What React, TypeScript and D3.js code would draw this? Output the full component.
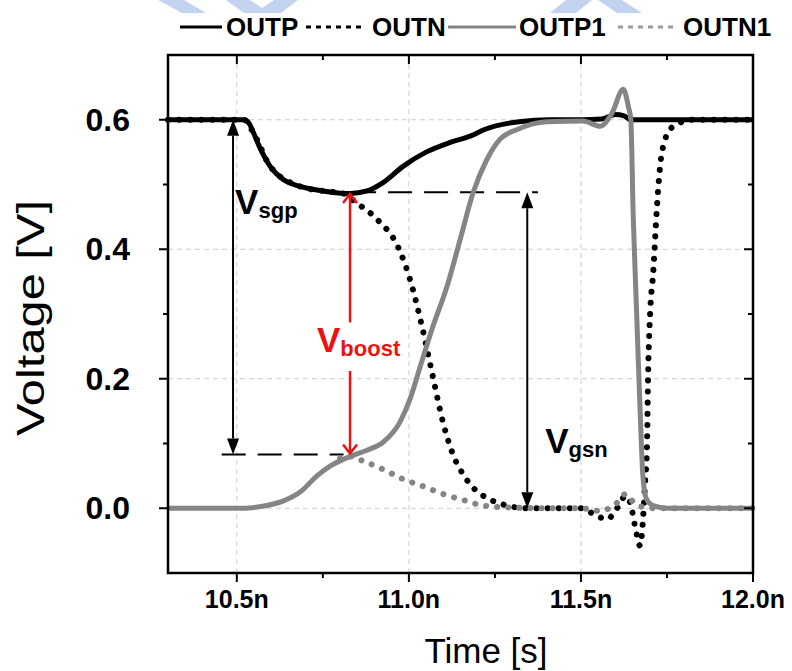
import React from "react";
import * as d3 from "d3";

const W = 792;
const H = 671;
const margin = { top: 55, right: 39, bottom: 98, left: 168 };
const FONT = "'Liberation Sans', Arial, Helvetica, sans-serif";

// axes
const xDomain: [number, number] = [10.3, 12.0];
const yDomain: [number, number] = [-0.1, 0.7];
const xTicks = [10.5, 11.0, 11.5, 12.0];
const xTickLabels = ["10.5n", "11.0n", "11.5n", "12.0n"];
const xMinor = [10.75, 11.25, 11.75];
const yTicks = [0, 0.2, 0.4, 0.6];
const yTickLabels = ["0.0", "0.2", "0.4", "0.6"];
const yMinor = [0.1, 0.3, 0.5];
const xGrid = [10.5, 11.0, 11.5];
const yGrid = [0, 0.2, 0.4, 0.6];

// series [time ns, volts]
const OUTP: [number, number][] = [
  [10.3, 0.6], [10.52, 0.6], [10.535, 0.595], [10.55, 0.578], [10.567, 0.557],
  [10.597, 0.528], [10.634, 0.508], [10.684, 0.497], [10.75, 0.49], [10.83, 0.486],
  [10.878, 0.49], [10.925, 0.503], [10.983, 0.528], [11.05, 0.55], [11.12, 0.565],
  [11.18, 0.575], [11.22, 0.585], [11.32, 0.597], [11.41, 0.6], [11.5, 0.6],
  [11.56, 0.601], [11.6, 0.608], [11.625, 0.606], [11.645, 0.6], [12.0, 0.6],
];

const OUTN: [number, number][] = [
  [10.3, 0.6], [10.52, 0.6], [10.55, 0.578], [10.597, 0.528], [10.684, 0.497],
  [10.75, 0.49], [10.81, 0.486], [10.844, 0.473], [10.908, 0.446], [10.969, 0.403],
  [11.003, 0.354], [11.038, 0.281], [11.067, 0.21], [11.099, 0.133], [11.126, 0.086],
  [11.158, 0.052], [11.19, 0.03], [11.23, 0.015], [11.28, 0.005], [11.34, 0.0],
  [11.5, 0.0], [11.547, -0.012], [11.576, -0.017], [11.605, 0.0], [11.63, 0.019],
  [11.645, 0.005], [11.658, -0.03], [11.672, -0.058], [11.68, -0.02], [11.687, 0.045],
  [11.692, 0.096], [11.695, 0.2], [11.701, 0.3], [11.71, 0.364], [11.721, 0.466],
  [11.73, 0.528], [11.745, 0.57], [11.759, 0.585], [11.78, 0.593], [11.817, 0.6],
  [12.0, 0.6],
];

const OUTP1: [number, number][] = [
  [10.3, 0.0], [10.52, 0.0], [10.56, 0.002], [10.634, 0.011], [10.684, 0.025],
  [10.733, 0.05], [10.771, 0.065], [10.829, 0.08], [10.88, 0.09], [10.925, 0.102],
  [10.974, 0.133], [11.003, 0.168], [11.033, 0.219], [11.07, 0.281], [11.111, 0.343],
  [11.149, 0.415], [11.187, 0.488], [11.227, 0.539], [11.265, 0.57], [11.315, 0.585],
  [11.4, 0.597], [11.506, 0.598], [11.556, 0.59], [11.59, 0.61], [11.623, 0.647],
  [11.638, 0.62], [11.645, 0.6], [11.652, 0.45], [11.662, 0.3], [11.672, 0.15],
  [11.68, 0.05], [11.69, 0.015], [11.71, 0.004], [11.75, 0.0], [12.0, 0.0],
];

const OUTN1: [number, number][] = [
  [10.8, 0.077], [10.829, 0.08], [10.867, 0.073], [10.925, 0.06], [10.983, 0.045],
  [11.041, 0.034], [11.099, 0.022], [11.169, 0.011], [11.216, 0.004], [11.3, 0.001],
  [11.4, 0.0], [11.5, 0.0], [11.555, -0.004], [11.6, 0.006], [11.63, 0.022],
  [11.655, 0.008], [11.68, 0.002], [11.72, 0.0], [12.0, 0.0],
];

const legendNames = ["OUTP", "OUTN", "OUTP1", "OUTN1"];
const GRAY = "#858585";
const RED = "#ee1111";

// annotation anchors (data units)
const vsgp = { x: 10.489, y0: 0.6, y1: 0.083, lx: 10.495, ly: 0.454 };
const vboost = { x: 10.829, y0: 0.487, y1: 0.083, gap0: 0.287, gap1: 0.212, lx: 10.733, ly: 0.241 };
const vgsn = { x: 11.344, y0: 0.488, y1: 0.0, lx: 11.396, ly: 0.086 };
const lowDash = { x0: 10.456, x1: 10.81, y: 0.083 };
const highDash = { x0: 10.835, x1: 11.375, y: 0.488 };

const x = d3.scaleLinear().domain(xDomain).range([margin.left, W - margin.right]);
const y = d3.scaleLinear().domain(yDomain).range([H - margin.bottom, margin.top]);

const line = d3
  .line<[number, number]>()
  .x((d) => x(d[0]))
  .y((d) => y(d[1]))
  .curve(d3.curveMonotoneX);

function FilledArrow({ px, y0, y1 }: { px: number; y0: number; y1: number }) {
  // tips at y0 and y1 (pixels), y0 above y1
  const hl = 16, hw = 6;
  return (
    <g>
      <line x1={px} x2={px} y1={y0 + hl} y2={y1 - hl} stroke="#000" strokeWidth={2} />
      <path d={`M${px},${y0} L${px - hw},${y0 + hl} L${px + hw},${y0 + hl} Z`} fill="#000" />
      <path d={`M${px},${y1} L${px - hw},${y1 - hl} L${px + hw},${y1 - hl} Z`} fill="#000" />
    </g>
  );
}

function Label({ px, py, main, sub, color }: { px: number; py: number; main: string; sub: string; color: string }) {
  return (
    <text x={px} y={py} fill={color} fontFamily={FONT} fontWeight="bold" fontSize={35}>
      <tspan>{main}</tspan>
      <tspan fontSize={22} dy={4}>{sub}</tspan>
    </text>
  );
}

export default function App() {
  const x0 = margin.left, x1 = W - margin.right;
  const yTop = margin.top, yBot = H - margin.bottom;
  const major = 9, minor = 5;

  const rbx = x(vboost.x);
  const rt = y(vboost.y0), rb = y(vboost.y1);

  return (
    <svg width={W} height={H} style={{ position: "absolute", left: 0, top: 0, background: "#fff" }}>
      {/* faint watermark shapes at the top */}
      <g fill="#c3d2ee">
        <polygon points="158,0 184,0 206,13 182,13" />
        <polygon points="226,0 250,0 262,8 274,0 298,0 281,13 244,13" />
        <polygon points="566,0 592,0 576,13 550,13" />
        <polygon points="598,0 622,0 642,13 617,13" />
      </g>

      {/* grid */}
      <g stroke="#cccccc" strokeWidth={1} strokeDasharray="5,4">
        {xGrid.map((t) => (
          <line key={"gx" + t} x1={x(t)} x2={x(t)} y1={yTop} y2={yBot} />
        ))}
        {yGrid.map((t) => (
          <line key={"gy" + t} x1={x0} x2={x1} y1={y(t)} y2={y(t)} />
        ))}
      </g>

      {/* annotation dashed guides */}
      <line x1={x(lowDash.x0)} x2={x(lowDash.x1)} y1={y(lowDash.y)} y2={y(lowDash.y)} stroke="#000" strokeWidth={2} strokeDasharray="24,12" />
      <line x1={x(highDash.x0)} x2={x(highDash.x1)} y1={y(highDash.y)} y2={y(highDash.y)} stroke="#000" strokeWidth={2} strokeDasharray="24,12" />

      {/* series */}
      <path d={line(OUTN) || ""} fill="none" stroke="#000" strokeWidth={6} strokeLinecap="round" strokeDasharray="0.1,11" />
      <path d={line(OUTN1) || ""} fill="none" stroke={GRAY} strokeWidth={6} strokeLinecap="round" strokeDasharray="0.1,11" />
      <path d={line(OUTP) || ""} fill="none" stroke="#000" strokeWidth={5} strokeLinejoin="round" />
      <path d={line(OUTP1) || ""} fill="none" stroke={GRAY} strokeWidth={5} strokeLinejoin="round" />

      {/* arrows */}
      <FilledArrow px={x(vsgp.x)} y0={y(vsgp.y0)} y1={y(vsgp.y1)} />
      <FilledArrow px={x(vgsn.x)} y0={y(vgsn.y0)} y1={y(vgsn.y1)} />
      <g stroke={RED} strokeWidth={2.5} fill="none">
        <line x1={rbx} x2={rbx} y1={rt + 2} y2={y(vboost.gap0)} />
        <line x1={rbx} x2={rbx} y1={y(vboost.gap1)} y2={rb - 2} />
        <polyline points={`${rbx - 7},${rt + 10} ${rbx},${rt + 1} ${rbx + 7},${rt + 10}`} />
        <polyline points={`${rbx - 7},${rb - 10} ${rbx},${rb - 1} ${rbx + 7},${rb - 10}`} />
      </g>

      <Label px={x(vsgp.lx)} py={y(vsgp.ly)} main="V" sub="sgp" color="#000" />
      <Label px={x(vboost.lx)} py={y(vboost.ly)} main="V" sub="boost" color={RED} />
      <Label px={x(vgsn.lx)} py={y(vgsn.ly)} main="V" sub="gsn" color="#000" />

      {/* frame */}
      <rect x={x0} y={yTop} width={x1 - x0} height={yBot - yTop} fill="none" stroke="#000" strokeWidth={2.5} />

      {/* ticks */}
      <g stroke="#000" strokeWidth={2}>
        {xTicks.map((t) => (
          <g key={"xt" + t}>
            <line x1={x(t)} x2={x(t)} y1={yBot} y2={yBot + major} />
            <line x1={x(t)} x2={x(t)} y1={yTop} y2={yTop + major} />
          </g>
        ))}
        {xMinor.map((t) => (
          <g key={"xm" + t}>
            <line x1={x(t)} x2={x(t)} y1={yBot} y2={yBot + minor} />
            <line x1={x(t)} x2={x(t)} y1={yTop} y2={yTop + minor} />
          </g>
        ))}
        {yTicks.map((t) => (
          <g key={"yt" + t}>
            <line x1={x0 - major} x2={x0} y1={y(t)} y2={y(t)} />
            <line x1={x1 - major} x2={x1} y1={y(t)} y2={y(t)} />
          </g>
        ))}
        {yMinor.map((t) => (
          <g key={"ym" + t}>
            <line x1={x0 - minor} x2={x0} y1={y(t)} y2={y(t)} />
            <line x1={x1 - minor} x2={x1} y1={y(t)} y2={y(t)} />
          </g>
        ))}
      </g>

      {/* tick labels */}
      <g fontFamily={FONT} fontWeight="bold" fill="#000">
        {xTicks.map((t, i) => (
          <text key={"xl" + t} x={x(t)} y={yBot + 35} textAnchor="middle" fontSize={25}>
            {xTickLabels[i]}
          </text>
        ))}
        {yTicks.map((t, i) => (
          <text key={"yl" + t} x={x0 - 38} y={y(t) + 11} textAnchor="end" fontSize={32}>
            {yTickLabels[i]}
          </text>
        ))}
      </g>

      {/* axis titles */}
      <text x={486} y={663} textAnchor="middle" fontFamily={FONT} fontSize={35} fill="#000">
        Time [s]
      </text>
      <text
        transform="translate(44,318) rotate(-90)"
        textAnchor="middle"
        fontFamily={FONT}
        fontSize={38}
        textLength={236}
        lengthAdjust="spacingAndGlyphs"
        fill="#000"
      >
        Voltage [V]
      </text>

      {/* legend */}
      <g fontFamily={FONT} fontWeight="bold" fontSize={26} fill="#000">
        <line x1={180} x2={222} y1={27} y2={27} stroke="#000" strokeWidth={3} />
        <text x={226} y={36}>{legendNames[0]}</text>
        <line x1={306} x2={366} y1={27} y2={27} stroke="#000" strokeWidth={3} strokeDasharray="5,5" />
        <text x={372} y={36}>{legendNames[1]}</text>
        <line x1={448} x2={516} y1={27} y2={27} stroke={GRAY} strokeWidth={3} />
        <text x={519} y={36}>{legendNames[2]}</text>
        <line x1={618} x2={678} y1={27} y2={27} stroke="#9a9a9a" strokeWidth={3} strokeDasharray="5,5" />
        <text x={683} y={36}>{legendNames[3]}</text>
      </g>
    </svg>
  );
}
